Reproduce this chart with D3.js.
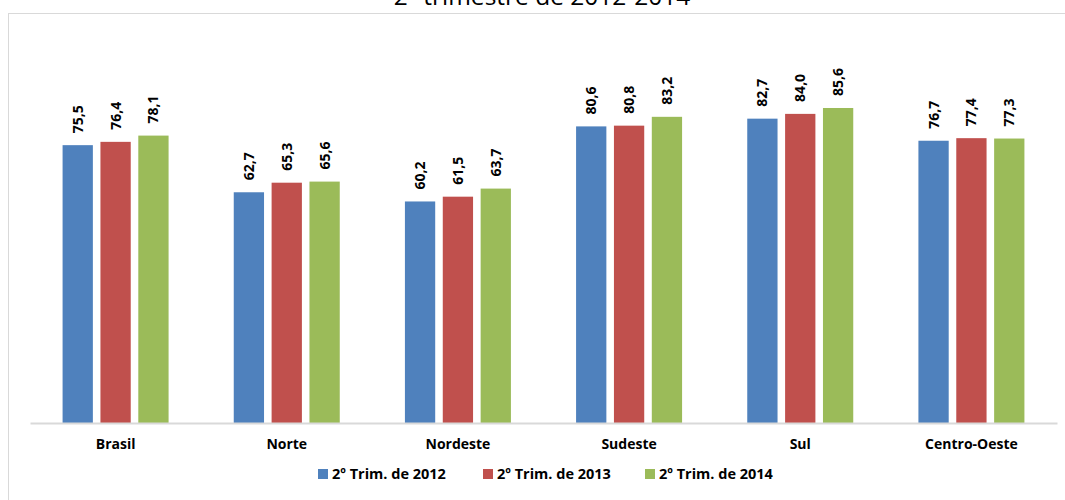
<!DOCTYPE html>
<html>
<head>
<meta charset="utf-8">
<script src="https://cdn.jsdelivr.net/npm/d3@7.9.0/dist/d3.min.js"></script>
<style>
  body { margin: 0; background: #fff; }
  svg { display: block; font-family: "Open Sans", Lato, sans-serif; }
</style>
</head>
<body>
<svg id="chart" width="1065" height="500"></svg>
<script>
const regions = ["Brasil", "Norte", "Nordeste", "Sudeste", "Sul", "Centro-Oeste"];
const seriesNames = ["2º Trim. de 2012", "2º Trim. de 2013", "2º Trim. de 2014"];
const trim2012 = [75.5, 62.7, 60.2, 80.6, 82.7, 76.7];
const trim2013 = [76.4, 65.3, 61.5, 80.8, 84.0, 77.4];
const trim2014 = [78.1, 65.6, 63.7, 83.2, 85.6, 77.3];
const colors = ["#4F81BD", "#C0504D", "#9BBB59"];

const allSeries = [trim2012, trim2013, trim2014];

const svg = d3.select("#chart");

// chart frame (partly off the picture)
svg.append("rect")
    .attr("x", 8.5).attr("y", 13.5)
    .attr("width", 1100).attr("height", 600)
    .attr("fill", "#fff")
    .attr("stroke", "#d9d9d9")
    .attr("stroke-width", 1);

// title sits mostly above the picture, as in the original
svg.append("text")
    .attr("x", 542).attr("y", 5)
    .attr("text-anchor", "middle")
    .attr("font-size", 24.5)
    .attr("fill", "#000")
    .text("2º trimestre de 2012-2014");

let x0 = d3.scaleBand().domain(regions).range([30, 1057]);
let x1 = d3.scaleBand().domain(d3.range(3)).range([-53, 53]).paddingInner(0.2);
let y = d3.scaleLinear().domain([0, 100]).range([423, 55]);

regions.forEach((region, i) => {
    let g = svg.append("g")
        .attr("transform", `translate(${x0(region) + x0.bandwidth() / 2},0)`);
    allSeries.forEach((values, s) => {
        let v = values[i];
        g.append("rect")
            .attr("x", x1(s))
            .attr("y", y(v))
            .attr("width", x1.bandwidth())
            .attr("height", y(0) - y(v))
            .attr("fill", colors[s]);
        g.append("text")
            .attr("transform", `translate(${x1(s) + x1.bandwidth() / 2 + 5},${y(v) - 12}) rotate(-90)`)
            .attr("font-size", 14)
            .attr("font-weight", "bold")
            .attr("fill", "#000")
            .text(v.toFixed(1).replace(".", ","));
    });
});

// baseline axis
let xAxis = d3.axisBottom(x0).tickSize(0).tickPadding(16);
let axisG = svg.append("g").attr("transform", `translate(0,${y(0)})`).call(xAxis);
axisG.select(".domain").attr("stroke", "#d9d9d9").attr("stroke-width", 2);
axisG.selectAll("text")
    .attr("font-size", 14)
    .attr("font-weight", "bold")
    .attr("fill", "#000")
    .style("font-family", "'Open Sans', Lato, sans-serif");

// legend
const legendX = [318, 483, 645];
seriesNames.forEach((name, s) => {
    let lg = svg.append("g").attr("transform", `translate(${legendX[s]},478)`);
    lg.append("rect")
        .attr("x", 0).attr("y", -9)
        .attr("width", 10).attr("height", 10)
        .attr("fill", colors[s]);
    lg.append("text")
        .attr("x", 14).attr("y", 1)
        .attr("font-size", 14.5)
        .attr("font-weight", "bold")
        .attr("fill", "#000")
        .text(name);
});
</script>
</body>
</html>
